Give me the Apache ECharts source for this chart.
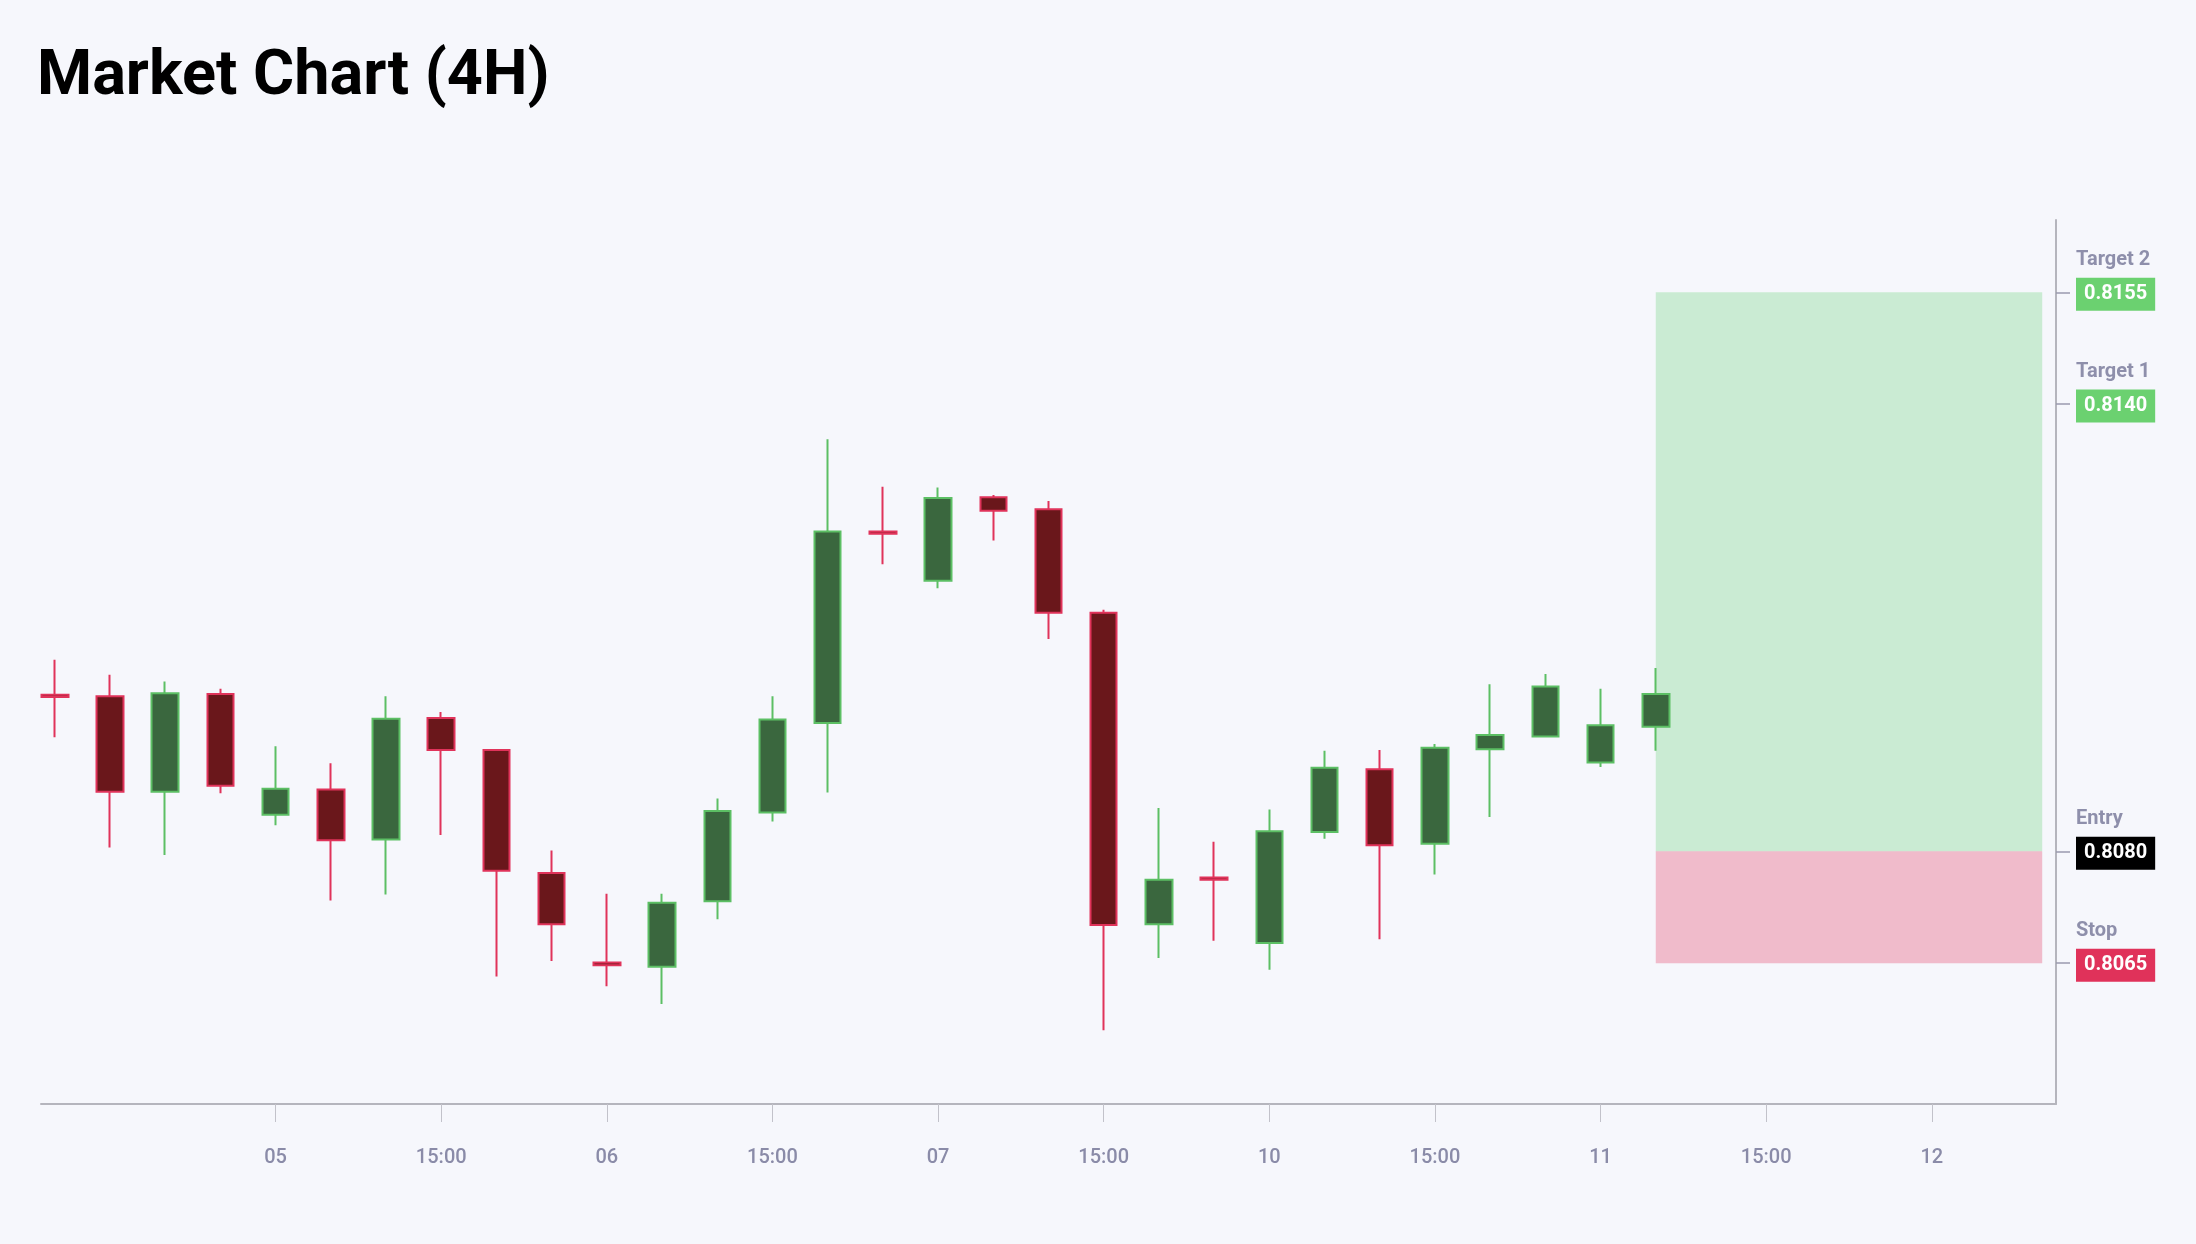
<!DOCTYPE html>
<html>
<head>
<meta charset="utf-8">
<script src="https://cdn.jsdelivr.net/npm/echarts@6/dist/echarts.min.js"></script>
<style>
html,body{margin:0;padding:0;background:#f6f7fc;}
#chart{width:2196px;height:1244px;}
</style>
</head>
<body>
<div id="chart"></div>
<script>
// ---- data ----
var openV  = [0.81010,0.81008,0.80880,0.81011,0.80849,0.80883,0.80816,0.80979,0.80936,0.80771,0.80651,0.80645,0.80733,0.80852,0.80972,0.81229,0.81163,0.81275,0.81259,0.81120,0.80702,0.80765,0.80677,0.80826,0.80910,0.80810,0.80937,0.80954,0.80919,0.80967];
var closeV = [0.81007,0.80880,0.81012,0.80888,0.80884,0.80815,0.80978,0.80936,0.80774,0.80702,0.80647,0.80731,0.80854,0.80977,0.81229,0.81226,0.81274,0.81257,0.81120,0.80701,0.80762,0.80762,0.80827,0.80912,0.80808,0.80939,0.80956,0.81021,0.80969,0.81011];
var lowV   = [0.80953,0.80805,0.80795,0.80878,0.80835,0.80734,0.80742,0.80822,0.80632,0.80653,0.80619,0.80595,0.80709,0.80840,0.80879,0.81185,0.81153,0.81217,0.81085,0.80560,0.80657,0.80680,0.80641,0.80817,0.80682,0.80769,0.80846,0.80953,0.80913,0.80935];
var highV  = [0.81057,0.81037,0.81028,0.81018,0.80941,0.80918,0.81008,0.80987,0.80937,0.80801,0.80743,0.80743,0.80871,0.81008,0.81353,0.81289,0.81288,0.81278,0.81270,0.81124,0.80858,0.80813,0.80856,0.80935,0.80936,0.80944,0.81024,0.81038,0.81018,0.81046];

var tickIdx    = [4,7,10,13,16,19,22,25,28,31,34];
var tickLabels = ['05','15:00','06','15:00','07','15:00','10','15:00','11','15:00','12'];

var levelNames  = ['Target 2','Target 1','Entry','Stop'];
var levelValues = [0.8155, 0.8140, 0.8080, 0.8065];

var zoneX      = [29, 36];
var profitZone = [0.8080, 0.8155];
var lossZone   = [0.8065, 0.8080];

// ---- build ----
var candles = openV.map(function (o, i) {
  return [i, o, closeV[i], lowV[i], highV[i]];
});

var boxStyle = {
  'Target 2': '#6bd170',
  'Target 1': '#6bd170',
  'Entry': '#000000',
  'Stop': '#e0325a'
};
var rich = {
  nm: { fontSize: 20, fontWeight: 'bold', color: '#8e8fab', lineHeight: 35, fontFamily: 'Roboto' },
  sp: { fontSize: 20, lineHeight: 31 }
};
levelNames.forEach(function (n, i) {
  rich['b' + i] = {
    backgroundColor: boxStyle[n], color: '#ffffff', fontSize: 20, fontWeight: 'bold',
    fontFamily: 'Roboto', lineHeight: 33, height: 33, padding: [0, 8]
  };
});

var chart = echarts.init(document.getElementById('chart'));
chart.setOption({
  animation: false,
  backgroundColor: '#f6f7fc',
  title: {
    text: 'Market Chart (4H)',
    left: 32, top: 42,
    textStyle: { fontFamily: 'Roboto', fontSize: 63, fontWeight: 'bold', color: '#000000' }
  },
  grid: { left: 41, right: 140, top: 220, bottom: 140 },
  xAxis: {
    type: 'value', min: -0.25, max: 36.25,
    axisLine: { show: true, onZero: false, lineStyle: { color: '#b5b5bd', width: 2 } },
    axisTick: { show: true, customValues: tickIdx, length: 18, lineStyle: { color: '#c2c2ca', width: 1 } },
    axisLabel: {
      customValues: tickIdx, margin: 44, fontSize: 20, fontWeight: 500, fontFamily: 'Roboto', color: '#8a8ba8',
      formatter: function (v) { var k = tickIdx.indexOf(Math.round(v)); return k >= 0 ? tickLabels[k] : ''; }
    },
    splitLine: { show: false }
  },
  yAxis: {
    type: 'value', position: 'right', min: 0.80461, max: 0.81647, scale: true,
    axisLine: { show: true, onZero: false, lineStyle: { color: '#b5b5bd', width: 2 } },
    axisTick: { show: true, customValues: levelValues, length: 14, lineStyle: { color: '#9a9aae', width: 1.5 } },
    axisLabel: {
      customValues: levelValues, margin: 20, rich: rich,
      formatter: function (v) {
        for (var i = 0; i < levelValues.length; i++) {
          if (Math.abs(v - levelValues[i]) < 1e-7) {
            return '{nm|' + levelNames[i] + '}\n{b' + i + '|' + levelValues[i].toFixed(4) + '}\n{sp| }';
          }
        }
        return '';
      }
    },
    splitLine: { show: false }
  },
  series: [
    {
      type: 'candlestick',
      data: candles,
      encode: { x: 0, y: [1, 2, 3, 4] },
      barWidth: 27,
      z: 2,
      itemStyle: {
        color: '#3a673e', color0: '#6a171b',
        borderColor: '#5cbf64', borderColor0: '#e0335a',
        borderWidth: 2
      }
    },
    {
      type: 'line',
      data: [],
      z: 5,
      silent: true,
      markArea: {
        silent: true,
        data: [
          [{ xAxis: zoneX[0], yAxis: profitZone[0], itemStyle: { color: 'rgba(100,210,115,0.3)' } }, { xAxis: zoneX[1], yAxis: profitZone[1] }],
          [{ xAxis: zoneX[0], yAxis: lossZone[0], itemStyle: { color: 'rgba(224,51,90,0.3)' } }, { xAxis: zoneX[1], yAxis: lossZone[1] }]
        ]
      }
    }
  ]
});
</script>
</body>
</html>
